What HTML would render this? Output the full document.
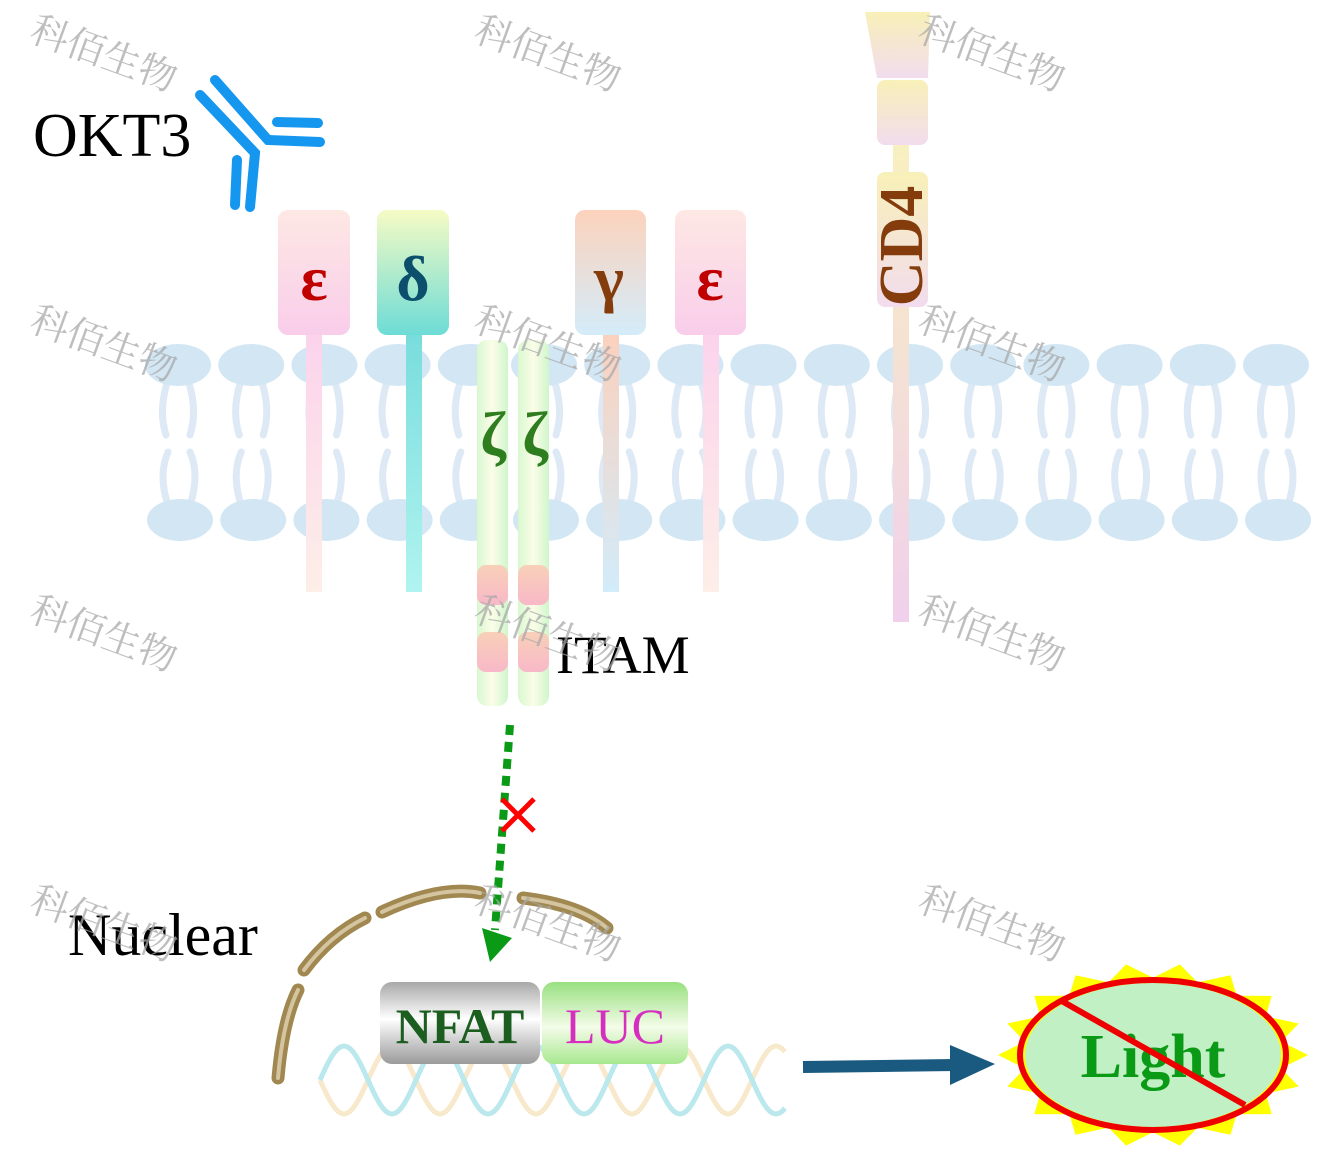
<!DOCTYPE html>
<html><head><meta charset="utf-8">
<style>
html,body{margin:0;padding:0;background:#fff;}
svg{display:block;}
text{font-family:"Liberation Serif","Noto Serif CJK SC",serif;}
</style></head>
<body>
<svg id="s" width="1335" height="1163" viewBox="0 0 1335 1163" xmlns="http://www.w3.org/2000/svg">
<defs>
<linearGradient id="gE" x1="0" y1="0" x2="0" y2="1"><stop offset="0" stop-color="#fde8e4"/><stop offset="1" stop-color="#f9cdea"/></linearGradient>
<linearGradient id="gD" x1="0" y1="0" x2="0" y2="1"><stop offset="0" stop-color="#f6fbc4"/><stop offset="1" stop-color="#6ddcd6"/></linearGradient>
<linearGradient id="gG" x1="0" y1="0" x2="0" y2="1"><stop offset="0" stop-color="#fcd2bc"/><stop offset="1" stop-color="#d4ecfa"/></linearGradient>
<linearGradient id="sE" x1="0" y1="0" x2="0" y2="1"><stop offset="0" stop-color="#fbd3ec"/><stop offset="1" stop-color="#fdeee8"/></linearGradient>
<linearGradient id="sD" x1="0" y1="0" x2="0" y2="1"><stop offset="0" stop-color="#78dcdc"/><stop offset="1" stop-color="#b0f4f0"/></linearGradient>
<linearGradient id="sG" x1="0" y1="0" x2="0" y2="1"><stop offset="0" stop-color="#fcd0bc"/><stop offset="1" stop-color="#d2ecfa"/></linearGradient>
<linearGradient id="gZ" x1="0" y1="0" x2="1" y2="0"><stop offset="0" stop-color="#d8f8d0"/><stop offset=".5" stop-color="#fbfde8"/><stop offset="1" stop-color="#d0f6cc"/></linearGradient>
<linearGradient id="gI" x1="0" y1="0" x2="0" y2="1"><stop offset="0" stop-color="#f8d0b8"/><stop offset="1" stop-color="#f8b8c8"/></linearGradient>
<linearGradient id="gC" x1="0" y1="0" x2="0" y2="1"><stop offset="0" stop-color="#f8f0b8"/><stop offset="1" stop-color="#f2dcee"/></linearGradient>
<linearGradient id="sC" x1="0" y1="0" x2="0" y2="1"><stop offset="0" stop-color="#f8f0c0"/><stop offset="1" stop-color="#f0d0ec"/></linearGradient>
<linearGradient id="gN" x1="0" y1="0" x2="0" y2="1"><stop offset="0" stop-color="#a8a8a8"/><stop offset=".45" stop-color="#ffffff"/><stop offset="1" stop-color="#9a9a9a"/></linearGradient>
<linearGradient id="gL" x1="0" y1="0" x2="0" y2="1"><stop offset="0" stop-color="#98e080"/><stop offset=".55" stop-color="#f4fce8"/><stop offset="1" stop-color="#a8e890"/></linearGradient>
</defs>
<g id="lip"></g>
<!-- antibody -->
<g stroke="#1597f0" stroke-width="10" stroke-linecap="round" fill="none">
<polyline points="200,95 255,153 250,207"/>
<polyline points="215,80 268,140 320,142"/>
<line x1="277" y1="122" x2="318" y2="123"/>
<line x1="237" y1="160" x2="235" y2="205"/>
</g>
<text x="33" y="156" font-size="62">OKT3</text>
<!-- stalks -->
<rect x="306" y="330" width="16" height="262" fill="url(#sE)"/>
<rect x="406" y="330" width="16" height="262" fill="url(#sD)"/>
<rect x="603" y="330" width="16" height="262" fill="url(#sG)"/>
<rect x="703" y="330" width="16" height="262" fill="url(#sE)"/>
<rect x="278" y="210" width="72" height="125" rx="10" fill="url(#gE)"/>
<rect x="377" y="210" width="72" height="125" rx="10" fill="url(#gD)"/>
<rect x="575" y="210" width="71" height="125" rx="10" fill="url(#gG)"/>
<rect x="675" y="210" width="71" height="125" rx="10" fill="url(#gE)"/>
<g font-weight="bold" font-size="64" text-anchor="middle">
<text x="314" y="300" fill="#c00000">ε</text>
<text x="413" y="300" fill="#0b4f6c">δ</text>
<text x="609" y="300" fill="#843c0c">γ</text>
<text x="710" y="300" fill="#c00000">ε</text>
</g>
<!-- zeta -->
<rect x="477" y="340" width="31" height="366" rx="10" fill="url(#gZ)"/>
<rect x="518" y="340" width="31" height="366" rx="10" fill="url(#gZ)"/>
<rect x="477" y="565" width="31" height="40" rx="9" fill="url(#gI)"/>
<rect x="518" y="565" width="31" height="40" rx="9" fill="url(#gI)"/>
<rect x="477" y="632" width="31" height="40" rx="9" fill="url(#gI)"/>
<rect x="518" y="632" width="31" height="40" rx="9" fill="url(#gI)"/>
<g font-size="62" fill="#2e7d1e" text-anchor="middle" font-weight="bold">
<text x="493" y="455">ζ</text><text x="535" y="455">ζ</text></g>
<text x="556" y="673" font-size="54">ITAM</text>
<!-- CD4 -->
<rect x="893" y="140" width="16" height="482" fill="url(#sC)"/>
<polygon points="865,12 930,12 928,78 877,78" fill="url(#gC)"/>
<rect x="877" y="80" width="51" height="65" rx="8" fill="url(#gC)"/>
<rect x="877" y="172" width="51" height="135" rx="8" fill="url(#gC)"/>
<text transform="translate(922,246) rotate(-90)" text-anchor="middle" font-size="62" font-weight="bold" fill="#843c0c">CD4</text>
<!-- signal arrow -->
<line x1="510" y1="725" x2="495" y2="930" stroke="#0a9a16" stroke-width="8" stroke-dasharray="10,7"/>
<polygon points="482,928 512,938 490,962" fill="#0a9a16"/>
<g stroke="#ff0000" stroke-width="5"><line x1="502" y1="799" x2="534" y2="831"/><line x1="534" y1="799" x2="502" y2="831"/></g>
<!-- nucleus -->
<g stroke="#a08850" stroke-width="13" stroke-linecap="round" fill="none">
<path d="M278,1078 Q283,1020 298,990"/>
<path d="M304,970 Q330,935 365,918"/>
<path d="M382,912 Q440,885 480,893"/>
<path d="M523,898 Q580,905 607,928"/>
</g>
<g stroke="#d4c4a0" stroke-width="4" stroke-linecap="round" fill="none">
<path d="M278,1078 Q283,1020 298,990"/>
<path d="M304,970 Q330,935 365,918"/>
<path d="M382,912 Q440,885 480,893"/>
<path d="M523,898 Q580,905 607,928"/>
</g>
<text x="68" y="955" font-size="60">Nuclear</text>
<g id="dna" fill="none" stroke-width="5" opacity="0.7"></g>
<rect x="380" y="982" width="160" height="82" rx="12" fill="url(#gN)"/>
<rect x="542" y="982" width="146" height="82" rx="12" fill="url(#gL)"/>
<text x="460" y="1043" text-anchor="middle" font-size="50" font-weight="bold" fill="#1b5e20">NFAT</text>
<text x="615" y="1043" text-anchor="middle" font-size="50" fill="#d62fc0">LUC</text>
<!-- arrow -->
<line x1="803" y1="1067" x2="955" y2="1065" stroke="#1a5a80" stroke-width="12"/>
<polygon points="950,1045 995,1064 950,1085" fill="#1a5a80"/>
<polygon id="star" fill="#ffff00"/>
<ellipse cx="1153" cy="1055" rx="128" ry="72" fill="#c0f0c4"/>
<text x="1153" y="1077" text-anchor="middle" font-size="62" font-weight="bold" fill="#0a9a16">Light</text>
<ellipse cx="1153" cy="1055" rx="133" ry="75" fill="none" stroke="#ee0000" stroke-width="6"/>
<line x1="1060" y1="1000" x2="1245" y2="1105" stroke="#ee0000" stroke-width="6"/>
<g id="wm" font-size="38" fill="#a8a8a8" opacity="0.75"></g>
</svg>
<script>
var ns="http://www.w3.org/2000/svg";
function el(p,t,a){var e=document.createElementNS(ns,t);for(var k in a)e.setAttribute(k,a[k]);p.appendChild(e);return e;}
var lip=document.getElementById("lip");
for(var i=0;i<16;i++){
 var x=178+i*73.2;
 var g=el(lip,"g",{stroke:"#dde9f5","stroke-width":7,fill:"none","stroke-linecap":"round"});
 el(g,"path",{d:"M"+(x-10)+",380 Q"+(x-20)+",410 "+(x-12)+",435"});
 el(g,"path",{d:"M"+(x+10)+",380 Q"+(x+20)+",410 "+(x+12)+",435"});
 el(g,"path",{d:"M"+(x-10)+",452 Q"+(x-20)+",475 "+(x-10)+",505"});
 el(g,"path",{d:"M"+(x+12)+",452 Q"+(x+22)+",475 "+(x+12)+",505"});
 el(lip,"ellipse",{cx:x,cy:365,rx:33,ry:21,fill:"#d2e6f4"});
 el(lip,"ellipse",{cx:x+2,cy:520,rx:33,ry:21,fill:"#d2e6f4"});
}
var dna=document.getElementById("dna");
for(var s=0;s<2;s++){
 var d="";
 for(var xx=320;xx<=785;xx+=3){var y=1080+34*Math.sin((xx-320)/48*Math.PI+s*Math.PI);d+=(xx==320?"M":"L")+xx+","+y.toFixed(1);}
 el(dna,"path",{d:d,stroke:s?"#9ddfe6":"#f6e0b8"});
}
var pts=[],n=18;
for(var k=0;k<2*n;k++){var a=k*Math.PI/n;var r=(k%2==0)?1:0.84;pts.push((1153+155*r*Math.cos(a)).toFixed(1)+","+(1055+92*r*Math.sin(a)).toFixed(1));}
document.getElementById("star").setAttribute("points",pts.join(" "));
var wm=document.getElementById("wm");
[[28,40],[472,40],[916,40],[28,330],[472,330],[916,330],[28,620],[472,620],[916,620],[28,910],[472,910],[916,910]].forEach(function(p){
 var t=el(wm,"text",{transform:"translate("+p[0]+","+p[1]+") rotate(20)"});t.textContent="科佰生物";
});
</script>
</body></html>
